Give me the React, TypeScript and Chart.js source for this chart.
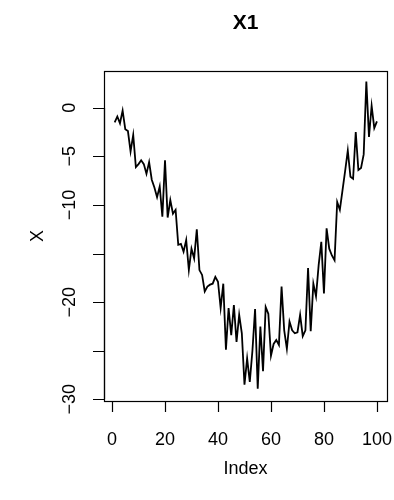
import React, { useEffect, useRef } from "react";
import { Chart, registerables } from "chart.js";

Chart.register(...registerables);

const titleText = "X1";
const xAxisTitle = "Index";
const yAxisTitle = "X";
const xTicks = [0, 20, 40, 60, 80, 100];
const yTicks = [-30, -25, -20, -15, -10, -5, 0];
const yTickLabels = ["\u221230", "", "\u221220", "", "\u221210", "\u22125", "0"];
const seriesX = [
  -1.5, -0.9, -1.6, -0.3, -2.2, -2.4, -4.5, -2.8, -6.1, -5.8,
  -5.4, -5.8, -6.8, -5.6, -7.4, -8.2, -9.2, -8.1, -11.2, -5.4,
  -11.3, -9.5, -10.9, -10.5, -14.1, -14.0, -14.8, -13.6, -16.7, -14.5,
  -15.5, -12.5, -16.7, -17.2, -18.9, -18.4, -18.2, -18.1, -17.4, -17.9,
  -20.6, -18.1, -24.9, -20.6, -23.4, -20.3, -24.1, -21.3, -23.2, -28.5,
  -25.8, -28.2, -25.0, -20.7, -28.9, -22.5, -27.1, -20.5, -21.2, -25.5,
  -24.3, -23.9, -24.4, -18.4, -22.9, -24.8, -22.0, -22.9, -23.2, -23.1,
  -21.3, -23.5, -22.9, -16.5, -23.0, -18.1, -19.4, -16.2, -13.8, -19.1,
  -12.4, -14.5, -15.2, -15.7, -9.7, -10.5, -8.5, -6.5, -4.4, -7.1,
  -7.3, -2.5, -6.4, -6.2, -4.8, 2.7, -3.0, 0.2, -2.1, -1.4,
];
const indices = seriesX.map((_, i) => i + 1);

const FONT = "'Liberation Sans', Arial, Helvetica, sans-serif";

const rAxesPlugin = {
  id: "rAxes",
  afterDraw(chart: any) {
    const ctx = chart.ctx;
    const { left, right, top, bottom } = chart.chartArea;
    const xs = chart.scales.x;
    const ys = chart.scales.y;
    ctx.save();
    ctx.strokeStyle = "#000";
    ctx.fillStyle = "#000";
    ctx.lineWidth = 1.2;
    // box
    ctx.strokeRect(Math.round(left) + 0.5, Math.round(top) + 0.5, Math.round(right - left), Math.round(bottom - top));
    const tl = 11;
    // x axis
    ctx.beginPath();
    const x0 = xs.getPixelForValue(xTicks[0]);
    const x1 = xs.getPixelForValue(xTicks[xTicks.length - 1]);
    ctx.moveTo(x0, bottom + 0.5);
    ctx.lineTo(x1, bottom + 0.5);
    xTicks.forEach((t) => {
      const px = Math.round(xs.getPixelForValue(t)) + 0.5;
      ctx.moveTo(px, bottom);
      ctx.lineTo(px, bottom + tl);
    });
    ctx.stroke();
    ctx.font = `18px ${FONT}`;
    ctx.textAlign = "center";
    ctx.textBaseline = "middle";
    xTicks.forEach((t) => {
      ctx.fillText(String(t), xs.getPixelForValue(t), 440);
    });
    // y axis
    ctx.beginPath();
    const y0 = ys.getPixelForValue(yTicks[0]);
    const y1 = ys.getPixelForValue(yTicks[yTicks.length - 1]);
    ctx.moveTo(left + 0.5, y0);
    ctx.lineTo(left + 0.5, y1);
    yTicks.forEach((t) => {
      const py = Math.round(ys.getPixelForValue(t)) + 0.5;
      ctx.moveTo(left, py);
      ctx.lineTo(left - tl, py);
    });
    ctx.stroke();
    yTicks.forEach((t, i) => {
      const label = yTickLabels[i];
      if (!label) return;
      ctx.save();
      ctx.translate(70, ys.getPixelForValue(t));
      ctx.rotate(-Math.PI / 2);
      ctx.fillText(label, 0, 0);
      ctx.restore();
    });
    // axis titles
    ctx.fillText(xAxisTitle, (left + right) / 2, 469);
    ctx.save();
    ctx.translate(38, (top + bottom) / 2);
    ctx.rotate(-Math.PI / 2);
    ctx.fillText(yAxisTitle, 0, 0);
    ctx.restore();
    // title
    ctx.font = `bold 21px ${FONT}`;
    ctx.fillText(titleText, (left + right) / 2, 23);
    ctx.restore();
  },
};

export default function App() {
  const ref = useRef<HTMLCanvasElement>(null);
  useEffect(() => {
    document.body.style.margin = "0";
    const canvas = ref.current!;
    const chart = new Chart(canvas, {
      type: "line",
      data: {
        datasets: [
          {
            data: indices.map((x, i) => ({ x, y: seriesX[i] })),
            borderColor: "#000",
            borderWidth: 1.8,
            pointRadius: 0,
            tension: 0,
            fill: false,
          },
        ],
      },
      options: {
        animation: false,
        responsive: false,
        maintainAspectRatio: false,
        devicePixelRatio: 1,
        layout: { padding: { left: 104, right: 7, top: 71, bottom: 99 } },
        plugins: { legend: { display: false }, tooltip: { enabled: false }, title: { display: false } },
        scales: {
          x: { type: "linear", min: -3.03, max: 103.8, display: false },
          y: { type: "linear", min: -30.17, max: 3.78, display: false },
        },
      },
      plugins: [rAxesPlugin],
    });
    return () => chart.destroy();
  }, []);
  return (
    <div style={{ position: "absolute", left: 0, top: 0, width: 394, height: 500, background: "#fff" }}>
      <canvas ref={ref} width={394} height={500} style={{ width: 394, height: 500 }} />
    </div>
  );
}
